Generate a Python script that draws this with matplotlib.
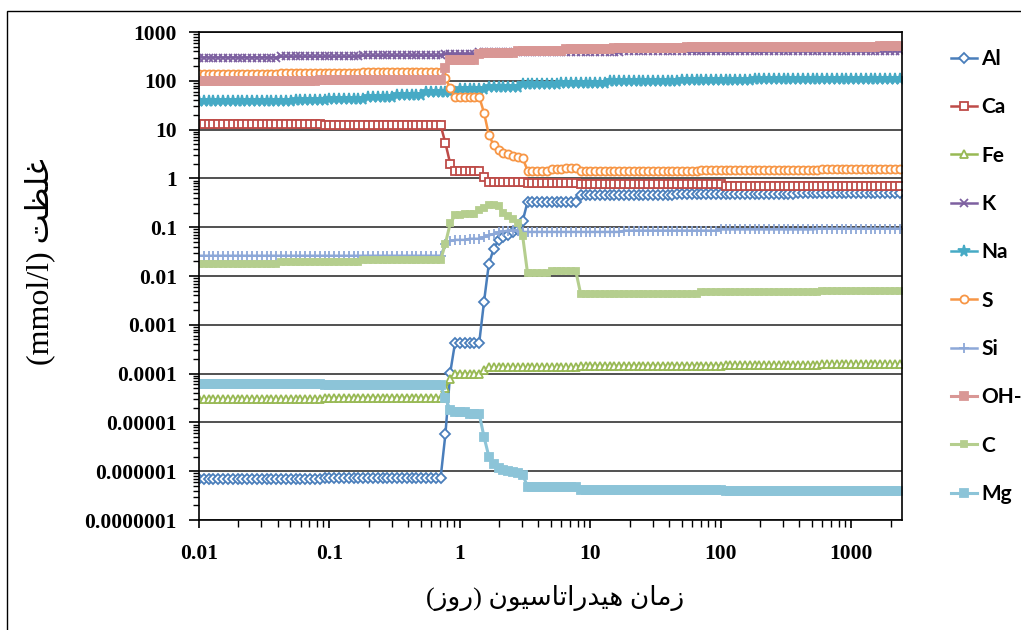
import numpy as np
import matplotlib
matplotlib.use("Agg")
import matplotlib.pyplot as plt
from matplotlib.patches import Rectangle
from matplotlib.ticker import LogLocator, FixedLocator, NullFormatter

# time grid of the simulation: 27 log-spaced points per decade from 0.01 d
t = 10 ** (np.arange(146) / 27 - 2)

# concentrations (mmol/l)
al = ([6.8e-7] * 26 + [7.2e-7] * 25 + [5.7e-6, 1.05e-4] + [4.3e-4] * 6 +
      [3e-3, 0.018, 0.036, 0.055, 0.062, 0.07, 0.08, 0.088, 0.135] +
      [0.33] * 11 + [0.46] * 20 + [0.48] * 25 + [0.5] * 22)
ca = ([12.8] * 26 + [12.4] * 25 + [5.3, 2.0] + [1.45] * 6 + [1.05] +
      [0.86] * 8 + [0.8] * 11 + [0.77] * 30 + [0.71] * 37)
fe = ([3e-5] * 26 + [3.2e-5] * 25 + [5e-5, 7.8e-5] + [1.0e-4] * 6 + [1.2e-4] +
      [1.35e-4] * 19 + [1.45e-4] * 30 + [1.5e-4] * 20 + [1.55e-4] * 17)
k = ([300] * 17 + [315] * 17 + [330] * 17 + [355] * 7 +
     [385] * 30 + [400] * 30 + [415] * 28)
na = ([38] * 10 + [39] * 10 + [41] * 7 + [43] * 8 + [46] * 6 + [52] * 6 +
      [60] * 7 + [68] * 6 + [76] * 7 + [84] * 8 + [92] * 10 + [98] * 15 +
      [104] * 15 + [108] * 20 + [111] * 11)
s = ([135] * 17 + [145] * 17 + [155] * 17 + [115, 70] + [47] * 6 +
     [22, 7.7, 4.8, 3.8, 3.3, 3.1, 2.9, 2.8, 2.6] +
     [1.45] * 5 + [1.55] * 3 + [1.65] * 3 + [1.42] * 25 + [1.5] * 25 + [1.58] * 17)
si = ([0.026] * 51 + [0.045, 0.052] + [0.055] * 3 + [0.058] * 3 +
      [0.063, 0.068, 0.073, 0.078, 0.082, 0.085, 0.087, 0.085, 0.08] +
      [0.08] * 20 + [0.085] * 20 + [0.09] * 20 + [0.093] * 18)
oh = ([98] * 25 + [102] * 26 + [180] + [270] * 6 + [350] + [380] * 7 +
      [410] * 10 + [440] * 10 + [465] * 15 + [485] * 40 + [510] * 5)
c = ([0.018] * 17 + [0.019] * 17 + [0.021] * 17 + [0.046, 0.12] +
     [0.175] * 2 + [0.185] * 3 +
     [0.22, 0.25, 0.28, 0.29, 0.27, 0.2, 0.17, 0.15, 0.12, 0.065] +
     [0.0115] * 5 + [0.0125] * 6 + [0.0043] * 25 + [0.0046] * 25 + [0.0049] * 17)
mg = ([6e-5] * 26 + [5.8e-5] * 25 + [3.1e-5, 1.8e-5] + [1.6e-5] * 3 + [1.5e-5] * 3 +
      [5e-6, 2e-6, 1.4e-6, 1.15e-6, 1.05e-6, 1.0e-6, 9.5e-7, 9e-7, 8.5e-7] +
      [4.8e-7] * 11 + [4.2e-7] * 30 + [4e-7] * 37)

labels = ["Al", "Ca", "Fe", "K", "Na", "S", "Si", "OH-", "C", "Mg"]
series = [al, ca, fe, k, na, s, si, oh, c, mg]

# (color, marker, size, filled, line width)
styles = [
    ("#4A7EBB", "D", 4.8, False, 1.8),
    ("#BE4B48", "s", 5.2, False, 1.8),
    ("#98B954", "^", 5.8, False, 1.8),
    ("#7D60A0", "x", 5.5, True, 1.8),
    ("#46AAC5", "*", 8.5, True, 1.8),
    ("#F79646", "o", 5.8, False, 1.8),
    ("#8DA8D8", "+", 7.0, True, 1.8),
    ("#D99795", "s", 5.2, True, 2.2),
    ("#B5CE8E", "s", 5.0, True, 2.2),
    ("#8CC4D8", "s", 6.3, True, 2.2),
]

fig = plt.figure(figsize=(10.21, 6.30), dpi=100)
ax = fig.add_axes([199 / 1021, 110 / 630, 703 / 1021, 488 / 630])

for lab, y, (col, mk, ms, filled, lw) in zip(labels, series, styles):
    ax.plot(t, y, color=col, lw=lw, marker=mk, ms=ms,
            mfc=col if filled else "white", mec=col, mew=1.3, label=lab)

ax.set_xscale("log")
ax.set_yscale("log")
ax.set_xlim(0.01, 2450)
ax.set_ylim(1e-7, 1000)

ax.yaxis.set_major_locator(FixedLocator([10.0 ** e for e in range(-7, 4)]))
ax.set_yticklabels(["0.0000001", "0.000001", "0.00001", "0.0001", "0.001",
                    "0.01", "0.1", "1", "10", "100", "1000"])
ax.yaxis.set_minor_locator(LogLocator(base=10, subs=np.arange(2, 10), numticks=20))
ax.yaxis.set_minor_formatter(NullFormatter())
ax.xaxis.set_major_locator(FixedLocator([0.01, 0.1, 1, 10, 100, 1000]))
ax.set_xticklabels(["0.01", "0.1", "1", "10", "100", "1000"])
ax.xaxis.set_minor_locator(LogLocator(base=10, subs=np.arange(2, 10), numticks=20))
ax.xaxis.set_minor_formatter(NullFormatter())

for lab in ax.get_xticklabels() + ax.get_yticklabels():
    lab.set_fontfamily("Liberation Serif")
    lab.set_fontweight("bold")
    lab.set_fontsize(15.5)

ax.tick_params(axis="y", which="major", direction="out", length=7, width=1.2, pad=9)
ax.tick_params(axis="y", which="minor", direction="out", length=4, width=1.0)
ax.tick_params(axis="x", which="major", direction="out", length=6, width=1.2, pad=11)
ax.tick_params(axis="x", which="minor", direction="out", length=5, width=1.0)

ax.grid(axis="y", which="major", color="#333333", lw=1.2)
ax.set_axisbelow(True)
for sp in ax.spines.values():
    sp.set_color("black")
    sp.set_linewidth(1.2)

# persian labels in visual order (presentation forms)
xlab = ("(\uFEAF\uFEED\uFEAD) "
        "\uFEE5\uFEEE\uFEF4\uFEB3\uFE8E\uFE97\uFE8D\uFEAD\uFEAA\uFEF4\uFEEB "
        "\uFEE5\uFE8E\uFEE3\uFEAF")
ylab = "(mmol/l) \uFE96\uFEC8\uFEE0\uFECF"
fig.text(555 / 1021, 1 - 598 / 630, xlab, ha="center", va="center",
         fontsize=19, family=["Liberation Serif", "DejaVu Sans"])
fig.text(40 / 1021, 1 - 262 / 630, ylab, ha="center", va="center", rotation=90,
         fontsize=23, family=["Liberation Serif", "DejaVu Sans"])

leg = ax.legend(loc="upper left", bbox_to_anchor=(951 / 1021, 1 - 49 / 630),
                bbox_transform=fig.transFigure, frameon=False,
                prop={"family": "Lato", "weight": "bold", "size": 15},
                handlelength=1.25, handletextpad=0.2, labelspacing=1.36,
                borderpad=0, borderaxespad=0)

fig.add_artist(Rectangle((7 / 1021, -0.1), 1.2, 1.1 - 11.5 / 630,
                         transform=fig.transFigure, fill=False, ec="black", lw=1.0))

fig.savefig("out.png", dpi=100)
